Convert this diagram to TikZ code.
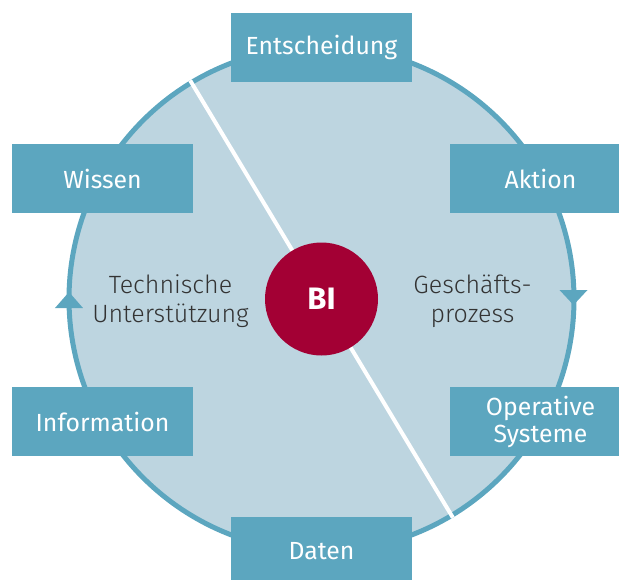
\documentclass[tikz,border=0pt]{standalone}
\usepackage{fontspec}
\setmainfont{Fira Sans}
\newfontfamily\lightfont{Fira Sans Light}
\usetikzlibrary{positioning}
\definecolor{biblue}{HTML}{5CA6BF}
\definecolor{bifill}{HTML}{BDD5E0}
\definecolor{bired}{HTML}{A30034}
\definecolor{bitext}{HTML}{333333}
\tikzset{
  stage/.style={fill=biblue, text=white, minimum width=90.5pt, minimum height=34.5pt,
    inner sep=0pt, align=center, font=\fontsize{12.4}{13.5}\selectfont},
  side/.style={text=bitext, align=center, font=\lightfont\fontsize{12.5}{14.5}\selectfont},
  turn/.style={fill=biblue},
}
\begin{document}
\begin{tikzpicture}[x=0.5pt,y=0.5pt]
  \clip (-321.5,-280) rectangle (297.5,299);
  \coordinate (O) at (0,0);
  % ring
  \draw[biblue, line width=2.5pt, fill=bifill] (O) circle[radius=252.5];
  \coordinate (cutA) at (121:255);
  \coordinate (cutB) at (301:255);
  \draw[white, line width=2pt] (cutA) -- (cutB);
  \node[circle, fill=bired, minimum size=56.5pt, inner sep=0pt, text=white,
    font=\bfseries\fontsize{15.5}{18}\selectfont] (bi) at (O) {BI};
  % stages
  \node[stage] (entscheidung) at (0,251.5) {Entscheidung};
  \node[stage] (aktion) at (219,120.5) {Aktion};
  \node[stage] (operativ) at (219,-122.5) {Operative\\Systeme};
  \node[stage] (daten) at (0,-252.5) {Daten};
  \node[stage] (information) at (-219,-122.5) {Information};
  \node[stage] (wissen) at (-219,120.5) {Wissen};
  % halves
  \node[side] (technik) at (-151,-2.5) {Technische\\Unterstützung};
  \node[side] (prozess) at (151,-2.5) {Geschäfts-\\prozess};
  % direction marks
  \coordinate (upA) at (180:252.5);
  \coordinate (downA) at (0:252);
  \fill[turn, shift={(upA)}] (-14,-9) -- (14,-9) -- (0,7) -- cycle;
  \fill[turn, shift={(downA)}] (-14,9) -- (14,9) -- (0,-6) -- cycle;
\end{tikzpicture}
\end{document}
